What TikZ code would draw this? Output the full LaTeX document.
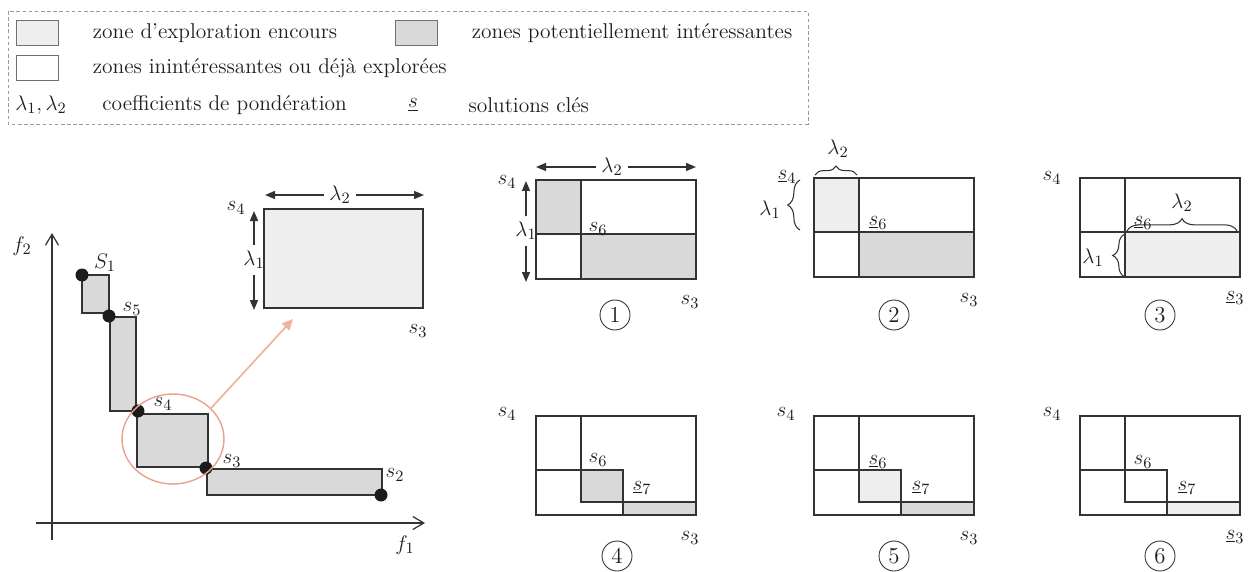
\documentclass[tikz,border=0pt]{standalone}
\usepackage{tikz}
\usetikzlibrary{arrows.meta, positioning, calc, shapes.geometric, decorations.pathreplacing}
\definecolor{cLine}{HTML}{333333}
\definecolor{cTxt}{HTML}{1E1E1E}
\definecolor{cPot}{HTML}{D9D9D9}
\definecolor{cCur}{HTML}{EEEEEE}
\definecolor{cDot}{HTML}{1C1C1C}
\definecolor{cZoom}{HTML}{E9A28C}
\definecolor{cZoomA}{HTML}{F0B3A1}
\definecolor{cLeg}{HTML}{9A9A9A}

\begin{document}
\begin{tikzpicture}[x=0.02cm, y=-0.02cm,
    lbl/.style={font=\fontsize{13}{15}\selectfont, text=cTxt, inner sep=0pt},
    leg/.style={font=\fontsize{12.2}{14}\selectfont, text=cTxt, inner sep=0pt},
    swatch/.style={draw=cLine!70, line width=0.5pt, minimum width=0.84cm, minimum height=0.5cm, inner sep=0pt},
    box/.style={draw=cLine, line width=0.7pt},
    dot/.style={circle, fill=cDot, minimum size=0.26cm, inner sep=0pt},
    num/.style={circle, draw=cLine, line width=0.5pt, minimum size=0.6cm, inner sep=0pt,
                font=\fontsize{13}{15}\selectfont, text=cTxt},
    dim/.style={draw=cLine, line width=0.8pt, -{Triangle[length=2mm,width=1.6mm]}},
    dimlbl/.style={lbl, inner sep=3pt},
    axis/.style={draw=cLine, line width=0.7pt, -{Straight Barb[length=2.2mm,width=2.6mm]}},
    brc/.style={draw=cLine, line width=0.6pt, decorate, decoration={brace, amplitude=5pt}},
    zoomc/.style={ellipse, draw=cZoom, line width=0.8pt, minimum width=2.04cm, minimum height=1.8cm, inner sep=0pt},
    zarr/.style={draw=cZoomA, line width=1pt, -{Triangle[length=2.2mm,width=2mm]}},
]
\useasboundingbox (0,0) rectangle (1253,571);

% === LEGEND ===
\draw[cLeg, line width=0.4pt, dash pattern=on 2pt off 1.5pt] (8,11) rectangle (808,124);
\node[swatch, fill=cCur] (swCur) at (37,33) {};
\node[leg, right=0.68cm of swCur] (txCur) {zone d'exploration encours};
\node[swatch, fill=cPot] (swPot) at (416,33) {};
\node[leg, right=0.68cm of swPot] (txPot) {zones potentiellement intéressantes};
\node[swatch, fill=white] (swNone) at (37,68) {};
\node[leg, right=0.68cm of swNone] (txNone) {zones inintéressantes ou déjà explorées};
\node[leg] (lgLam) at (41,105) {$\lambda_1, \lambda_2$};
\node[leg, right=0.7cm of lgLam] (txLam) {coefficients de pondération};
\node[leg] (lgSol) at (413,105) {$\underline{s}$};
\node[leg, right=1cm of lgSol] (txSol) {solutions clés};

% === FRONT (f1, f2) ===
\coordinate (orgX) at (36,523);
\coordinate (endX) at (425,523);
\coordinate (orgY) at (52,540);
\coordinate (endY) at (52,233);
\draw[axis] (orgX) -- (endX);
\draw[axis] (orgY) -- (endY);
\node[lbl] (f1) at (405,545) {$f_1$};
\node[lbl] (f2) at (22,246) {$f_2$};

\draw[box, fill=cPot] (82,275) rectangle (109,313);
\draw[box, fill=cPot] (110,317) rectangle (136,411);
\draw[box, fill=cPot] (137,414) rectangle (208,467);
\draw[box, fill=cPot] (207,469) rectangle (382,495);

\node[dot] (d1) at (82,275) {};
\node[dot] (d5) at (109,316) {};
\node[dot] (d4) at (138,411) {};
\node[dot] (d3) at (206,468) {};
\node[dot] (d2) at (381,495) {};
\node[lbl] (ls1) at (105,263) {$S_1$};
\node[lbl] (ls5) at (132,309) {$s_5$};
\node[lbl] (ls4) at (163,404) {$s_4$};
\node[lbl] (ls3) at (232,461) {$s_3$};
\node[lbl] (ls2) at (395,475) {$s_2$};

% zoom on s4 -> s3
\node[zoomc] (zc) at (173,439) {};
\coordinate (zTip) at (293,319);
\draw[zarr] (zc.39) -- (zTip);

\node[box, fill=cCur, minimum width=3.18cm, minimum height=1.98cm, inner sep=0pt] (inset) at (343.5,258.5) {};
\node[lbl] (is4) at (236,208) {$s_4$};
\node[lbl] (is3) at (418,331) {$s_3$};
\node[dimlbl] (il2) at (340,195) {$\lambda_2$};
\coordinate (il2a) at (265,195);
\coordinate (il2b) at (424,195);
\draw[dim] (il2) -- (il2a);
\draw[dim] (il2) -- (il2b);
\node[dimlbl] (il1) at (254,260) {$\lambda_1$};
\coordinate (il1a) at (254,211);
\coordinate (il1b) at (254,310);
\draw[dim] (il1) -- (il1a);
\draw[dim] (il1) -- (il1b);

% === PANEL 1 ===
\begin{scope}[shift={(536,180)}]
  \fill[cPot] (0,0) rectangle (45,54);
  \fill[cPot] (45,54) rectangle (160,99);
  \draw[box] (0,0) rectangle (160,99) (45,0) -- (45,99) (0,54) -- (160,54);
  \node[lbl] (p1s4) at (-29,2) {$s_4$};
  \node[lbl] (p1s6) at (62,49) {$\underline{s}_6$};
  \node[lbl] (p1s3) at (154,122) {$s_3$};
  \node[num] (p1n) at (79,135) {1};
  \node[dimlbl] (p1l2) at (76,-13) {$\lambda_2$};
  \coordinate (p1l2a) at (0,-13);
  \coordinate (p1l2b) at (160,-13);
  \draw[dim] (p1l2) -- (p1l2a);
  \draw[dim] (p1l2) -- (p1l2b);
  \node[dimlbl] (p1l1) at (-10,51) {$\lambda_1$};
  \coordinate (p1l1a) at (-10,1);
  \coordinate (p1l1b) at (-10,102);
  \draw[dim] (p1l1) -- (p1l1a);
  \draw[dim] (p1l1) -- (p1l1b);
\end{scope}

% === PANEL 2 ===
\begin{scope}[shift={(814,178)}]
  \fill[cCur] (0,0) rectangle (45,54);
  \fill[cPot] (45,54) rectangle (160,99);
  \draw[box] (0,0) rectangle (160,99) (45,0) -- (45,99) (0,54) -- (160,54);
  \node[lbl] (p2s4) at (-27,-1) {$\underline{s}_4$};
  \node[lbl] (p2s6) at (64,45) {$\underline{s}_6$};
  \node[lbl] (p2s3) at (155,122) {$s_3$};
  \node[num] (p2n) at (80,137) {2};
  \node[lbl] (p2l2) at (24,-29) {$\lambda_2$};
  \draw[brc] (1,-3) -- (43,-3);
  \node[lbl] (p2l1) at (-44,32) {$\lambda_1$};
  \draw[brc, decoration={amplitude=7pt}] (-14,52) -- (-14,2);
\end{scope}

% === PANEL 3 ===
\begin{scope}[shift={(1080,178)}]
  \fill[cCur] (45,54) rectangle (160,99);
  \draw[box] (0,0) rectangle (160,99) (45,0) -- (45,99) (0,54) -- (160,54);
  \node[lbl] (p3s4) at (-28,0) {$s_4$};
  \node[lbl] (p3s6) at (63,45) {$\underline{s}_6$};
  \node[lbl] (p3s3) at (155,120) {$\underline{s}_3$};
  \node[num] (p3n) at (80,137) {3};
  \node[lbl] (p3l2) at (102,25) {$\lambda_2$};
  \draw[brc, decoration={amplitude=7pt}] (47,53) -- (157,53);
  \node[lbl] (p3l1) at (13,80) {$\lambda_1$};
  \draw[brc, decoration={amplitude=7pt}] (45,99) -- (45,56);
\end{scope}

% === PANEL 4 ===
\begin{scope}[shift={(536,416)}]
  \fill[cPot] (45,54) rectangle (87,86);
  \fill[cPot] (87,86) rectangle (160,99);
  \draw[box] (0,0) rectangle (160,99) (45,0) -- (45,86) -- (160,86) (0,54) -- (87,54) -- (87,99);
  \node[lbl] (p4s4) at (-29,-2) {$s_4$};
  \node[lbl] (p4s6) at (62,44) {$s_6$};
  \node[lbl] (p4s7) at (106,72) {$\underline{s}_7$};
  \node[lbl] (p4s3) at (154,122) {$s_3$};
  \node[num] (p4n) at (81,140) {4};
\end{scope}

% === PANEL 5 ===
\begin{scope}[shift={(814,416)}]
  \fill[cCur] (45,54) rectangle (87,86);
  \fill[cPot] (87,86) rectangle (160,99);
  \draw[box] (0,0) rectangle (160,99) (45,0) -- (45,86) -- (160,86) (0,54) -- (87,54) -- (87,99);
  \node[lbl] (p5s4) at (-28,-2) {$s_4$};
  \node[lbl] (p5s6) at (64,46) {$\underline{s}_6$};
  \node[lbl] (p5s7) at (107,72) {$\underline{s}_7$};
  \node[lbl] (p5s3) at (155,122) {$s_3$};
  \node[num] (p5n) at (80,140) {5};
\end{scope}

% === PANEL 6 ===
\begin{scope}[shift={(1080,416)}]
  \fill[cCur] (87,86) rectangle (160,99);
  \draw[box] (0,0) rectangle (160,99) (45,0) -- (45,86) -- (160,86) (0,54) -- (87,54) -- (87,99);
  \node[lbl] (p6s4) at (-28,-2) {$s_4$};
  \node[lbl] (p6s6) at (63,46) {$s_6$};
  \node[lbl] (p6s7) at (107,72) {$\underline{s}_7$};
  \node[lbl] (p6s3) at (155,121) {$\underline{s}_3$};
  \node[num] (p6n) at (80,140) {6};
\end{scope}

\end{tikzpicture}
\end{document}
